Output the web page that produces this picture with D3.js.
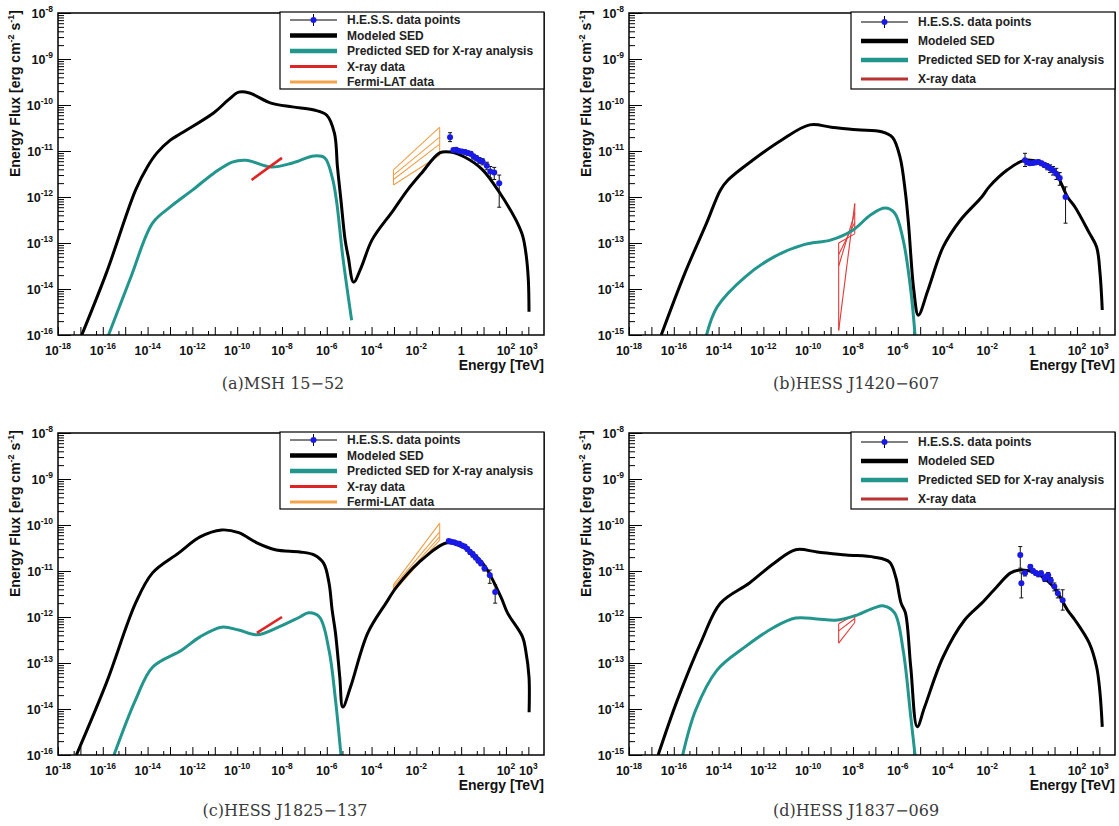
<!DOCTYPE html>
<html>
<head>
<meta charset="utf-8">
<script src="https://cdn.jsdelivr.net/npm/d3@7"></script>
<style>
  body { margin: 0; background: #fff; }
  svg { display: block; font-family: "Liberation Sans", Arial, sans-serif; }
</style>
</head>
<body>
<svg id="fig" width="1119" height="826"></svg>
<script>
// axis tick labels
const xTickVals = [1e-18, 1e-16, 1e-14, 1e-12, 1e-10, 1e-8, 1e-6, 1e-4, 1e-2, 1, 1e2, 1e3];
const xTickExps = ['-18', '-16', '-14', '-12', '-10', '-8', '-6', '-4', '-2', '', '2', '3'];
const yTickVals = [1e-8, 1e-9, 1e-10, 1e-11, 1e-12, 1e-13, 1e-14, 1e-15];
const yTickExpsAC = ['-8', '-9', '-10', '-11', '-12', '-13', '-14', '-16'];
const yTickExpsBD = ['-8', '-9', '-10', '-11', '-12', '-13', '-14', '-15'];

const legendNames = {
  hess: 'H.E.S.S. data points',
  model: 'Modeled SED',
  pred: 'Predicted SED for X-ray analysis',
  xray: 'X-ray data',
  fermi: 'Fermi-LAT data'
};

// (a) MSH 15-52   [energy TeV, flux erg cm-2 s-1]
const modelA = [[1.15e-17, 1e-15], [1.45e-16, 2.24e-14], [2.9e-15, 1.41e-12], [1e-14, 4.6e-12],
  [2.63e-14, 9.1e-12], [1e-13, 1.7e-11], [3.3e-13, 2.45e-11], [9.1e-12, 6.8e-11], [4e-11, 1.29e-10],
  [1.17e-10, 1.9e-10], [3.55e-10, 1.82e-10], [3.24e-9, 1.1e-10],
  [2.95e-8, 9.1e-11], [2.7e-7, 7.8e-11], [1e-6, 6.0e-11], [2.2e-6, 2.45e-11], [3.0e-6, 4.5e-12],
  [4.3e-6, 8.5e-13], [6.6e-6, 1.17e-13], [9.1e-6, 5.0e-14], [1.58e-5, 1.41e-14], [3.5e-5, 3.0e-14],
  [1.05e-4, 1.17e-13], [9.5e-4, 5.2e-13], [4.0e-3, 1.41e-12], [1.7e-2, 3.3e-12], [0.11, 9.1e-12],
  [0.33, 9.5e-12], [1.41, 7.4e-12], [9.1, 3.9e-12], [60, 1.12e-12], [126, 6.3e-13], [316, 2.8e-13],
  [562, 1.41e-13], [794, 5.6e-14], [1000, 1.58e-14], [1070, 3.2e-15]];
const predA = [[1.8e-16, 1e-15], [1.8e-15, 1.82e-14], [1.66e-14, 2.7e-13], [1e-13, 6.0e-13],
  [1e-12, 1.41e-12], [9.1e-12, 3.3e-12], [6.0e-11, 5.75e-12], [2.5e-10, 6.3e-12], [3.24e-9, 4.5e-12],
  [2.95e-8, 5.5e-12], [2.7e-7, 7.8e-12], [8.1e-7, 7.1e-12], [1.74e-6, 2.7e-12], [2.7e-6, 8.5e-13],
  [5.2e-6, 5.0e-14], [1.29e-5, 2.1e-15]];
const xrayA = [[4.4e-10, 2.35e-12], [1e-8, 7.1e-12]];
const fermiAE = [9.5e-4, 0.11];
const fermiAF = [[3.9e-12, 3.3e-11], [3.0e-12, 2.0e-11], [2.4e-12, 1.41e-11], [1.82e-12, 8.1e-12]];
const hessA = [[0.32, 2.0e-11, 1.6e-11, 2.5e-11], [0.45, 1.05e-11, 0.96e-11, 1.14e-11],
  [0.6, 1.07e-11, 0.98e-11, 1.16e-11], [0.8, 1.0e-11, 0.92e-11, 1.09e-11], [1.1, 9.8e-12, 9.0e-12, 1.07e-11],
  [1.5, 9.5e-12, 8.6e-12, 1.04e-11], [2.0, 9.0e-12, 8.1e-12, 9.9e-12], [2.7, 8.7e-12, 7.8e-12, 9.6e-12],
  [3.6, 7.6e-12, 6.7e-12, 8.5e-12], [4.8, 7.0e-12, 6.1e-12, 7.9e-12], [6.5, 6.3e-12, 5.4e-12, 7.2e-12],
  [9.0, 5.9e-12, 5.0e-12, 6.8e-12], [14, 4.8e-12, 3.9e-12, 5.7e-12], [20, 3.6e-12, 2.6e-12, 4.6e-12],
  [30, 3.4e-12, 2.4e-12, 4.4e-12], [50, 2.0e-12, 6.0e-13, 3.0e-12]];

// (b) HESS J1420-607
const modelB = [[2.75e-17, 1e-15], [3.16e-16, 2.24e-14], [2.9e-15, 2.7e-13], [1.2e-14, 1.41e-12],
  [2.63e-14, 2.34e-12], [3.3e-13, 6.3e-12], [6.6e-12, 1.74e-11], [1.17e-10, 3.7e-11], [1.07e-9, 3.3e-11],
  [1.51e-8, 2.9e-11], [1.9e-7, 2.63e-11], [5.75e-7, 2.0e-11], [1.26e-6, 7.4e-12], [2.2e-6, 1.23e-12],
  [3.0e-6, 2.7e-13], [5.2e-6, 9.5e-15], [8.3e-6, 2.7e-15], [2.24e-5, 9.5e-15], [1.05e-4, 8.1e-14],
  [6.3e-4, 3.16e-13], [5.6e-3, 1.0e-12], [1.2e-2, 1.66e-12], [7.9e-2, 3.9e-12], [0.46, 6.3e-12],
  [2.14, 5.75e-12], [9.1, 3.9e-12], [38, 1.0e-12], [83, 6.0e-13], [355, 1.66e-13], [760, 8.1e-14],
  [1070, 2.24e-14], [1350, 3.5e-15]];
const predB = [[2.9e-15, 1e-15], [8.7e-15, 4.1e-15], [1.51e-13, 1.82e-14], [3.0e-12, 5.0e-14],
  [6.0e-11, 9.1e-14], [1.07e-9, 1.17e-13], [9.8e-9, 1.9e-13], [6.3e-8, 4.1e-13], [2.7e-7, 5.75e-13],
  [7.2e-7, 4.5e-13], [1.74e-6, 1.17e-13], [3.8e-6, 9.5e-15], [5.9e-6, 1e-15]];
const xrayBE = [2.3e-9, 1.2e-8];
const xrayBF = [[1.0e-13, 1.58e-13], [5.6e-14, 2.8e-13], [3.16e-14, 4.5e-13], [1.26e-15, 7.2e-13]];
const hessB = [[0.48, 6.3e-12, 4.6e-12, 8.9e-12], [0.62, 5.6e-12, 5.1e-12, 6.1e-12],
  [0.8, 5.4e-12, 4.9e-12, 5.9e-12], [1.05, 5.5e-12, 5.0e-12, 6.0e-12], [1.4, 5.6e-12, 5.1e-12, 6.1e-12],
  [1.9, 5.8e-12, 5.2e-12, 6.4e-12], [2.6, 5.4e-12, 4.8e-12, 6.0e-12], [3.5, 5.0e-12, 4.4e-12, 5.6e-12],
  [4.7, 4.6e-12, 3.9e-12, 5.3e-12], [6.3, 4.2e-12, 3.4e-12, 5.0e-12], [8.5, 3.8e-12, 3.0e-12, 4.6e-12],
  [12, 3.2e-12, 2.4e-12, 4.2e-12], [17, 2.6e-12, 1.8e-12, 3.4e-12], [31, 1.0e-12, 2.7e-13, 1.66e-12]];

// (c) HESS J1825-137
const modelC = [[6.6e-18, 1e-15], [1.45e-16, 3.7e-14], [2.9e-15, 2.0e-12], [1.66e-14, 9.1e-12],
  [2.4e-13, 2.45e-11], [2.2e-12, 5.5e-11], [2.0e-11, 7.8e-11], [1.17e-10, 6.8e-11], [7.6e-10, 4.1e-11],
  [5.0e-9, 2.9e-11], [6.3e-8, 2.6e-11], [2.7e-7, 2.24e-11], [7.2e-7, 1.48e-11], [1.26e-6, 5.5e-12],
  [1.74e-6, 1.41e-12], [2.45e-6, 4.5e-13], [3.8e-6, 5.0e-14], [5.2e-6, 1.1e-14], [1.15e-5, 3.0e-14],
  [6.8e-5, 4.5e-13], [4.4e-4, 2.0e-12], [1.32e-3, 4.5e-12], [1.2e-2, 1.48e-11], [0.24, 4.1e-11],
  [1.41, 3.16e-11], [9.1, 1.48e-11], [60, 2.7e-12], [117, 1.23e-12], [550, 3.7e-13], [760, 1.9e-13],
  [1070, 5.0e-14], [1080, 8.5e-15]];
const predC = [[3.16e-16, 1e-15], [2.9e-15, 1.58e-14], [1.66e-14, 8.1e-14], [3.3e-13, 1.9e-13],
  [2.2e-12, 3.7e-13], [2.0e-11, 6.0e-13], [1.17e-10, 5.2e-13], [7.6e-10, 4.1e-13], [6.9e-9, 6.0e-13],
  [6.3e-8, 1.0e-12], [1.55e-7, 1.23e-12], [4.7e-7, 1.0e-12], [1.26e-6, 1.9e-13], [2.45e-6, 1.58e-14],
  [4.3e-6, 1e-15]];
const xrayC = [[7.6e-10, 4.5e-13], [1e-8, 1.0e-12]];
const fermiCE = [9.5e-4, 0.11];
const fermiCF = [[5.0e-12, 1.1e-10], [4.5e-12, 7.1e-11], [4.0e-12, 5.6e-11], [3.5e-12, 4.7e-11]];
const hessC = [[0.28, 4.5e-11, 4.2e-11, 4.8e-11], [0.36, 4.3e-11, 4.0e-11, 4.6e-11],
  [0.48, 4.2e-11, 3.9e-11, 4.5e-11], [0.62, 4.0e-11, 3.7e-11, 4.3e-11], [0.83, 3.9e-11, 3.6e-11, 4.2e-11],
  [1.1, 3.6e-11, 3.3e-11, 3.9e-11], [1.45, 3.4e-11, 3.1e-11, 3.7e-11], [1.9, 3.0e-11, 2.7e-11, 3.3e-11],
  [2.5, 2.6e-11, 2.3e-11, 2.9e-11], [3.3, 2.3e-11, 2.0e-11, 2.6e-11], [4.4, 2.0e-11, 1.75e-11, 2.25e-11],
  [5.8, 1.7e-11, 1.5e-11, 1.9e-11], [7.6, 1.48e-11, 1.3e-11, 1.66e-11], [11, 1.15e-11, 1.0e-11, 1.3e-11],
  [19, 8.1e-12, 5.4e-12, 1.05e-11], [33, 3.5e-12, 2.0e-12, 5.0e-12]];

// (d) HESS J1837-069
const modelD = [[2.0e-17, 1e-15], [1.45e-16, 1.58e-14], [1.8e-15, 3.16e-13], [1.2e-14, 2.0e-12],
  [2.4e-13, 5.5e-12], [3.0e-12, 1.48e-11], [2.75e-11, 2.9e-11], [2.5e-10, 2.6e-11], [5.0e-9, 2.24e-11],
  [8.9e-8, 2.0e-11], [4.2e-7, 1.58e-11], [8.1e-7, 7.4e-12], [1.41e-6, 2.0e-12], [2.2e-6, 1.23e-12],
  [3.8e-6, 8.1e-14], [7.4e-6, 4.1e-15], [1.58e-5, 1.1e-14], [1.05e-4, 1.35e-13], [9.5e-4, 8.5e-13],
  [5.6e-3, 2.0e-12], [2.6e-2, 4.5e-12], [0.11, 9.1e-12], [0.33, 1.05e-11], [1.41, 9.1e-12],
  [9.1, 4.5e-12], [38, 1.41e-12], [83, 8.5e-13], [355, 2.7e-13], [760, 8.1e-14], [1070, 2.24e-14],
  [1350, 4.1e-15]];
const predD = [[2.5e-16, 1e-15], [9.5e-16, 9.5e-15], [8.7e-15, 7.1e-14], [1.51e-13, 2.24e-13],
  [3.0e-12, 6.0e-13], [2.75e-11, 9.5e-13], [2.5e-10, 9.1e-13], [1.66e-9, 8.5e-13], [1.51e-8, 1.1e-12],
  [8.9e-8, 1.58e-12], [2.4e-7, 1.74e-12], [7.2e-7, 1.23e-12], [1.74e-6, 1.9e-13], [3.8e-6, 6.8e-15],
  [5.9e-6, 1e-15]];
const xrayDE = [2.3e-9, 1.2e-8];
const xrayDF = [[7.1e-13, 1.12e-12], [5.0e-13, 9.3e-13], [2.7e-13, 7.6e-13]];
const hessD = [[0.295, 2.24e-11, 1.15e-11, 3.4e-11], [0.33, 5.4e-12, 2.6e-12, 9.1e-12],
  [0.48, 9.1e-12, 7.8e-12, 1.05e-11], [0.83, 1.23e-11, 1.1e-11, 1.35e-11], [1.1, 1.0e-11, 9.0e-12, 1.1e-11],
  [1.45, 9.1e-12, 8.1e-12, 1.0e-11], [1.9, 8.5e-12, 7.5e-12, 9.5e-12], [2.5, 8.9e-12, 7.8e-12, 1.0e-11],
  [3.6, 6.9e-12, 5.9e-12, 7.9e-12], [4.3, 7.5e-12, 6.5e-12, 8.5e-12], [5.2, 8.1e-12, 6.9e-12, 9.3e-12],
  [6.8, 6.2e-12, 5.2e-12, 7.2e-12], [9.8, 4.6e-12, 3.7e-12, 5.5e-12], [14, 3.3e-12, 2.6e-12, 4.0e-12],
  [23, 2.3e-12, 1.41e-12, 3.9e-12]];

// layout
const W = 486;
const H = 322;
const teal = '#22968d';

const panels = [
  { id: 'a', x: 58, y: 13, caption: '(a)MSH 15\u221252', capX: 283, capY: 389,
    model: modelA, pred: predA, xrayLine: xrayA, fermiE: fermiAE, fermiF: fermiAF, hess: hessA,
    yExps: yTickExpsAC, legend: ['hess', 'model', 'pred', 'xray', 'fermi'], xrayColor: '#e02424' },
  { id: 'b', x: 629, y: 13, caption: '(b)HESS J1420\u2212607', capX: 856, capY: 389,
    model: modelB, pred: predB, xrayE: xrayBE, xrayF: xrayBF, hess: hessB,
    yExps: yTickExpsBD, legend: ['hess', 'model', 'pred', 'xray'], xrayColor: '#b83232' },
  { id: 'c', x: 58, y: 433, caption: '(c)HESS J1825\u2212137', capX: 285, capY: 816,
    model: modelC, pred: predC, xrayLine: xrayC, fermiE: fermiCE, fermiF: fermiCF, hess: hessC,
    yExps: yTickExpsAC, legend: ['hess', 'model', 'pred', 'xray', 'fermi'], xrayColor: '#e02424' },
  { id: 'd', x: 629, y: 433, caption: '(d)HESS J1837\u2212069', capX: 856, capY: 816,
    model: modelD, pred: predD, xrayE: xrayDE, xrayF: xrayDF, hess: hessD,
    yExps: yTickExpsBD, legend: ['hess', 'model', 'pred', 'xray'], xrayColor: '#b83232' }
];

const svg = d3.select('#fig');
svg.append('rect').attr('width', 1119).attr('height', 826).attr('fill', '#fff');

function powLabel(sel, x, y, exp, anchor, size) {
  const t = sel.append('text')
    .attr('x', x).attr('y', y)
    .attr('text-anchor', anchor)
    .attr('font-size', size)
    .attr('fill', '#111');
  if (exp === '') {
    t.text('1');
    return t;
  }
  t.append('tspan').text('10');
  t.append('tspan').attr('dy', -size * 0.45).attr('font-size', size * 0.68).text(exp);
  return t;
}

function drawBowtie(g, x, y, E, F, colour, width) {
  const b = g.append('g').attr('fill', 'none').attr('stroke', colour).attr('stroke-width', width);
  F.forEach((f) => {
    b.append('line')
      .attr('x1', x(E[0])).attr('y1', y(f[0]))
      .attr('x2', x(E[1])).attr('y2', y(f[1]));
  });
  const left = d3.extent(F, (f) => f[0]);
  const right = d3.extent(F, (f) => f[1]);
  b.append('line').attr('x1', x(E[0])).attr('x2', x(E[0])).attr('y1', y(left[0])).attr('y2', y(left[1]));
  b.append('line').attr('x1', x(E[1])).attr('x2', x(E[1])).attr('y1', y(right[0])).attr('y2', y(right[1]));
}

function drawPanel(p) {
  const g = svg.append('g').attr('transform', `translate(${p.x},${p.y})`);
  const x = d3.scaleLog().domain([1e-18, 5e3]).range([0, W]);
  const y = d3.scaleLog().domain([1e-15, 1e-8]).range([H, 0]);

  g.append('clipPath').attr('id', 'clip-' + p.id)
    .append('rect').attr('width', W).attr('height', H);

  // x ticks: decades and 5x10^n, drawn inward
  const decades = d3.range(-18, 4).map((k) => Math.pow(10, k));
  const halves = d3.range(-18, 4).map((k) => 5 * Math.pow(10, k)).filter((v) => v < 5e3);
  g.append('g').attr('transform', `translate(0,${H})`)
    .call(d3.axisBottom(x).tickValues(decades).tickSize(-8).tickFormat('').tickSizeOuter(0))
    .call((a) => a.select('.domain').remove())
    .call((a) => a.selectAll('line').attr('stroke', '#000'));
  g.append('g').attr('transform', `translate(0,${H})`)
    .call(d3.axisBottom(x).tickValues(halves).tickSize(-4).tickFormat('').tickSizeOuter(0))
    .call((a) => a.select('.domain').remove())
    .call((a) => a.selectAll('line').attr('stroke', '#000'));

  // y ticks: decades and 2..9 minors
  const minors = [];
  d3.range(-15, -8).forEach((k) => {
    d3.range(2, 10).forEach((m) => minors.push(m * Math.pow(10, k)));
  });
  g.append('g')
    .call(d3.axisLeft(y).tickValues(yTickVals).tickSize(-13).tickFormat('').tickSizeOuter(0))
    .call((a) => a.select('.domain').remove())
    .call((a) => a.selectAll('line').attr('stroke', '#000'));
  g.append('g')
    .call(d3.axisLeft(y).tickValues(minors).tickSize(-6).tickFormat('').tickSizeOuter(0))
    .call((a) => a.select('.domain').remove())
    .call((a) => a.selectAll('line').attr('stroke', '#000'));

  // tick labels
  xTickVals.forEach((v, i) => powLabel(g, x(v), H + 20, xTickExps[i], 'middle', 12.5).attr('font-weight', 'bold'));
  yTickVals.forEach((v, i) => powLabel(g, -5, y(v) + 4.5, p.yExps[i], 'end', 12.5).attr('font-weight', 'bold'));

  // axis titles
  g.append('text')
    .attr('x', W).attr('y', H + 35)
    .attr('text-anchor', 'end')
    .attr('font-size', 14).attr('font-weight', 'bold').attr('fill', '#111')
    .text('Energy [TeV]');
  const yt = g.append('text')
    .attr('transform', `translate(-38,-3) rotate(-90)`)
    .attr('text-anchor', 'end')
    .attr('font-size', 14).attr('font-weight', 'bold').attr('fill', '#111');
  yt.append('tspan').text('Energy Flux [erg cm');
  yt.append('tspan').attr('dy', -6).attr('font-size', 9).text('-2');
  yt.append('tspan').attr('dy', 6).text(' s');
  yt.append('tspan').attr('dy', -6).attr('font-size', 9).text('-1');
  yt.append('tspan').attr('dy', 6).text(']');

  // curves
  const line = d3.line()
    .x((d) => x(d[0]))
    .y((d) => y(d[1]))
    .curve(d3.curveCatmullRom.alpha(0.5));
  const plot = g.append('g').attr('clip-path', `url(#clip-${p.id})`);

  if (p.fermiE) drawBowtie(plot, x, y, p.fermiE, p.fermiF, '#f0a04a', 1.1);
  if (p.xrayE) drawBowtie(plot, x, y, p.xrayE, p.xrayF, '#e03a3a', 1.1);

  plot.append('path').datum(p.pred)
    .attr('fill', 'none').attr('stroke', teal).attr('stroke-width', 3)
    .attr('stroke-linejoin', 'round').attr('d', line);
  plot.append('path').datum(p.model)
    .attr('fill', 'none').attr('stroke', '#000').attr('stroke-width', 3)
    .attr('stroke-linejoin', 'round').attr('d', line);

  if (p.xrayLine) {
    plot.append('path').datum(p.xrayLine)
      .attr('fill', 'none').attr('stroke', '#e02424').attr('stroke-width', 2.6)
      .attr('d', d3.line().x((d) => x(d[0])).y((d) => y(d[1])));
  }

  // H.E.S.S. points
  const pts = plot.append('g');
  pts.selectAll('line.err').data(p.hess).join('line')
    .attr('class', 'err')
    .attr('x1', (d) => x(d[0])).attr('x2', (d) => x(d[0]))
    .attr('y1', (d) => y(d[2])).attr('y2', (d) => y(d[3]))
    .attr('stroke', '#111').attr('stroke-width', 1);
  pts.selectAll('line.caplo').data(p.hess).join('line')
    .attr('class', 'caplo')
    .attr('x1', (d) => x(d[0]) - 2).attr('x2', (d) => x(d[0]) + 2)
    .attr('y1', (d) => y(d[2])).attr('y2', (d) => y(d[2]))
    .attr('stroke', '#111').attr('stroke-width', 1);
  pts.selectAll('line.caphi').data(p.hess).join('line')
    .attr('class', 'caphi')
    .attr('x1', (d) => x(d[0]) - 2).attr('x2', (d) => x(d[0]) + 2)
    .attr('y1', (d) => y(d[3])).attr('y2', (d) => y(d[3]))
    .attr('stroke', '#111').attr('stroke-width', 1);
  pts.selectAll('circle').data(p.hess).join('circle')
    .attr('cx', (d) => x(d[0])).attr('cy', (d) => y(d[1]))
    .attr('r', 3).attr('fill', '#1a1ae6');

  // frame
  g.append('rect')
    .attr('width', W).attr('height', H)
    .attr('fill', 'none').attr('stroke', '#000').attr('stroke-width', 1.5);

  // legend
  const n = p.legend.length;
  const lg = g.append('g').attr('transform', 'translate(222,-1)');
  lg.append('rect').attr('width', 264).attr('height', 77)
    .attr('fill', '#fff').attr('stroke', '#000').attr('stroke-width', 1.2);
  const step = n === 5 ? 15.5 : 19;
  const start = n === 5 ? 8 : 10;
  p.legend.forEach((key, i) => {
    const cy = start + i * step;
    const lx1 = 10;
    const lx2 = 57;
    if (key === 'hess') {
      lg.append('line').attr('x1', lx1).attr('x2', lx2).attr('y1', cy).attr('y2', cy)
        .attr('stroke', '#000').attr('stroke-width', 1);
      lg.append('line').attr('x1', (lx1 + lx2) / 2).attr('x2', (lx1 + lx2) / 2)
        .attr('y1', cy - 6).attr('y2', cy + 6).attr('stroke', '#000').attr('stroke-width', 1);
      lg.append('circle').attr('cx', (lx1 + lx2) / 2).attr('cy', cy).attr('r', 3).attr('fill', '#1a1ae6');
    } else {
      const style = {
        model: ['#000', 4.5],
        pred: [teal, 4.5],
        xray: [p.xrayColor, 3],
        fermi: ['#f2a34c', 3]
      }[key];
      lg.append('line').attr('x1', lx1).attr('x2', lx2).attr('y1', cy).attr('y2', cy)
        .attr('stroke', style[0]).attr('stroke-width', style[1]);
    }
    lg.append('text')
      .attr('x', 67).attr('y', cy + 4)
      .attr('font-size', 12).attr('font-weight', 'bold').attr('fill', '#222')
      .text(legendNames[key]);
  });

  // caption
  svg.append('text')
    .attr('x', p.capX).attr('y', p.capY)
    .attr('text-anchor', 'middle')
    .attr('font-family', '"DejaVu Serif", serif')
    .attr('font-size', 16).attr('fill', '#3a3a3a')
    .text(p.caption);
}

panels.forEach(drawPanel);
</script>
</body>
</html>
